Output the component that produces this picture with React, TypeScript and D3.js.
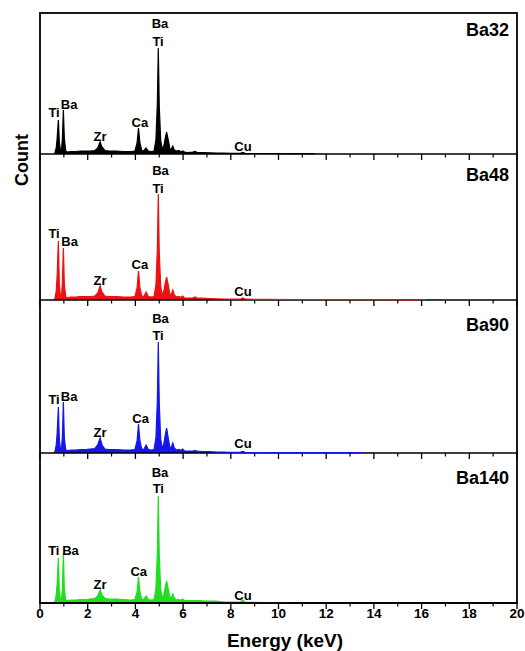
import React from "react";
import * as d3 from "d3";

// Shared energy axis (keV) for all spectra
const energy = [0.55,0.62,0.68,0.72,0.77,0.81,0.86,0.9,0.94,0.98,1.02,1.08,1.15,1.3,1.5,1.7,1.9,2.1,2.3,2.42,2.52,2.6,2.72,2.9,3.2,3.5,3.8,3.98,4.07,4.13,4.19,4.27,4.36,4.45,4.54,4.68,4.78,4.86,4.92,4.96,5.0,5.06,5.13,5.2,5.26,5.31,5.37,5.45,5.51,5.57,5.63,5.72,5.82,5.9,5.98,6.06,6.2,6.4,6.5,6.6,6.8,7.1,7.4,7.7,8.0,8.4,8.5,8.6,9.0,9.5,10.5,11.5,12.5,13.5,14.5,15.5,16.2,17];

const countsBa32 = [0,1,6,16,34,12,3,4,16,44,16,3,2,2.5,2.5,3,3,3,3.5,6,12,7,3.5,3,3,2.5,2.5,3,11,26,11,3,3.5,6,3,2.5,3,14,50,106,48,14,4,9,17,22,15,5,5,8,4,3,3.5,2,3,2,1.5,2,2.5,1.5,1.5,1.2,1,0.8,0.6,0.6,1.5,0.6,0.5,0.5,0.4,0.3,0,0,0,0,0,0];
const countsBa48 = [0,1,9,25,59,16,3,4,17,52,16,3,2.5,3,3,3.5,3.5,3.5,4,7,14,8,4,3.5,3.5,3,3,3.5,12,29,12,3.5,4,8,3.5,3,3.5,15,50,106,48,14,4,10,18,23,16,5,6,10,5,3,3.5,2.5,4,2,2,2,3,1.8,1.8,1.5,1.2,1,0.8,0.8,2,0.8,0.7,0.6,0.5,0.5,0.4,0.4,0.3,0.2,0.5,0];
const countsBa90 = [0,1,8,20,46,14,3,4,17,51,15,3,2.5,3,3,3.5,3.5,4,4.5,8,15,8,4,3.5,3.5,3,3,3.5,12,29,12,3.5,4,8,3.5,3,3.5,15,52,111,50,14,4,10,19,25,16,5,6,10,5,3,3.5,2.5,4,2,2,2,2.5,1.8,1.5,1.3,1,0.8,0.7,0.6,1.5,0.6,0.5,0.5,0.4,0.4,0.3,0.3,0,0,0,0];
const countsBa140 = [0,1,8,20,45,12,3,3,15,50,14,3,2.5,3,3,3.5,3.5,4,4.5,7,13,8,4.5,4,4,3.5,3,3.5,11,26,11,3.5,4,7,3.5,3,3.5,14,50,107,48,14,4,9,17,22,15,5,6,9,5,3,3.5,2.5,4,2.5,2.5,2.5,2.5,2.5,2.2,2,2,1,0.8,0.8,3,0.8,0.6,0.5,0.4,0,0,0,0,0,0,0];

const sampleNames = ["Ba32", "Ba48", "Ba90", "Ba140"];
const sampleCounts = [countsBa32, countsBa48, countsBa90, countsBa140];
const sampleColors = ["#000000", "#ee1111", "#1515ee", "#22dd22"];

// Peak labels: text, energy (keV) of label centre, height (counts) of text baseline
const peakLabels = [
  [["Ba",5.03,126.5],["Ti",4.95,108],["Ti",0.59,37.5],["Ba",1.22,45.5],["Zr",2.52,13.5],["Ca",4.19,27],["Cu",8.51,3.5]],
  [["Ba",5.05,125.5],["Ti",4.95,107],["Ti",0.59,62.5],["Ba",1.24,54],["Zr",2.52,15.5],["Ca",4.19,31.5],["Cu",8.51,4]],
  [["Ba",5.05,130],["Ti",4.95,113.5],["Ti",0.59,49],["Ba",1.22,52.5],["Zr",2.52,16],["Ca",4.22,30],["Cu",8.51,5.5]],
  [["Ba",5.03,126],["Ti",4.96,110.5],["Ti",0.58,48],["Ba",1.28,48],["Zr",2.52,14],["Ca",4.14,27],["Cu",8.51,3.5]],
];

const xTicks = [0,2,4,6,8,10,12,14,16,18,20];
const xMinorTicks = [1,3,5,7,9,11,13,15,17,19];

const W = 525, H = 651;
const left = 40, right = 517;
const panelEdges = [13, 154, 300, 453, 603];
const font = "'Liberation Sans', Arial, sans-serif";

export default function App() {
  const x = d3.scaleLinear().domain([0, 20]).range([left, right]);
  return (
    <svg width={W} height={H} style={{ position: "absolute", left: 0, top: 0, background: "#fff" }}>
      {sampleNames.map((name, i) => {
        const top = panelEdges[i], bottom = panelEdges[i + 1];
        const y = d3.scaleLinear().domain([0, bottom - top]).range([bottom, top]);
        const counts = sampleCounts[i];
        const pts = energy.map((e, k) => [e, counts[k]] as [number, number]);
        const area = d3.area<[number, number]>().x(d => x(d[0])).y0(bottom).y1(d => y(d[1]))(pts) || "";
        const line = d3.line<[number, number]>().defined(d => d[1] > 0).x(d => x(d[0])).y(d => y(d[1]))(pts) || "";
        return (
          <g key={name}>
            <path d={area} fill={sampleColors[i]} stroke="none" />
            <line x1={left} x2={right} y1={bottom} y2={bottom} stroke="#000" strokeWidth={1.5} />
            <path d={line} fill="none" stroke={sampleColors[i]} strokeWidth={1.2} />
            {xTicks.map(t => (
              <line key={"M" + t} x1={x(t)} x2={x(t)} y1={bottom} y2={bottom + 6} stroke="#000" strokeWidth={1.3} />
            ))}
            {xMinorTicks.map(t => (
              <line key={"m" + t} x1={x(t)} x2={x(t)} y1={bottom} y2={bottom + 3.5} stroke="#000" strokeWidth={1.2} />
            ))}
            {peakLabels[i].map((l, k) => (
              <text key={k} x={x(l[1] as number)} y={y(l[2] as number)} textAnchor="middle"
                fontFamily={font} fontWeight="bold" fontSize={13} fill="#000">{l[0]}</text>
            ))}
            <text x={509} y={top + [23, 27, 31, 31][i]} textAnchor="end" fontFamily={font}
              fontWeight="bold" fontSize={18} fill="#000">{name}</text>
          </g>
        );
      })}
      <rect x={left} y={panelEdges[0]} width={right - left} height={panelEdges[4] - panelEdges[0]}
        fill="none" stroke="#000" strokeWidth={1.8} />
      {xTicks.map(t => (
        <text key={t} x={x(t)} y={618} textAnchor="middle" fontFamily={font} fontWeight="bold"
          fontSize={13.5} fill="#000">{t}</text>
      ))}
      <text x={285} y={647} textAnchor="middle" fontFamily={font} fontWeight="bold" fontSize={19} fill="#000">Energy (keV)</text>
      <text transform="translate(28,160) rotate(-90)" textAnchor="middle" fontFamily={font}
        fontWeight="bold" fontSize={18} fill="#000">Count</text>
    </svg>
  );
}
